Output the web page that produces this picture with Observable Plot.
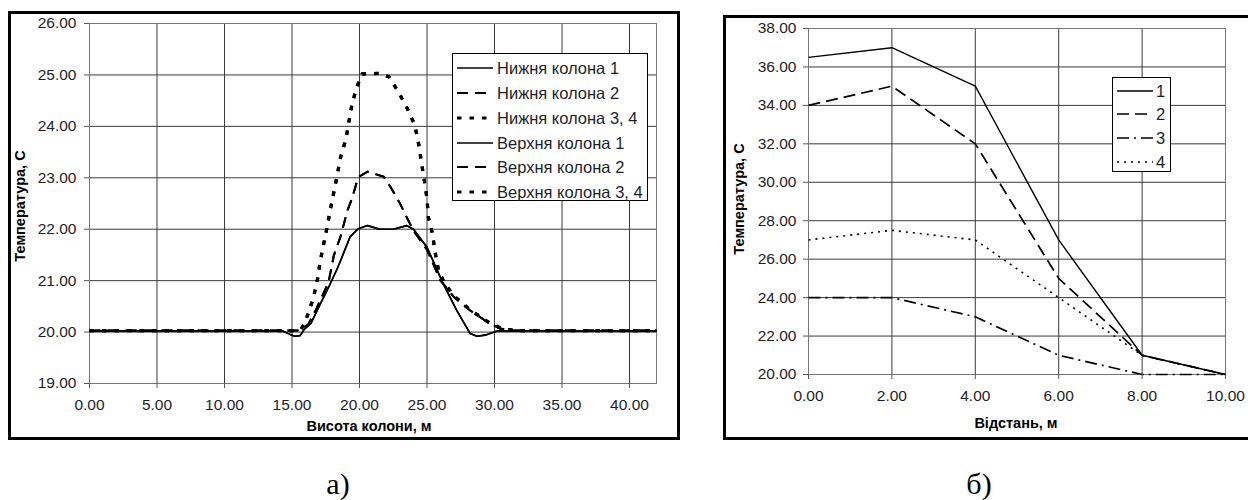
<!DOCTYPE html>
<html>
<head>
<meta charset="utf-8">
<script src="https://cdn.jsdelivr.net/npm/d3@7"></script>
<script src="https://cdn.jsdelivr.net/npm/@observablehq/plot@0.6"></script>
<style>
  html, body { margin: 0; padding: 0; background: #fff; }
  body { width: 1248px; height: 500px; position: relative; overflow: hidden; font-family: Arial, "Liberation Sans", sans-serif; color: #1e1e28; }
  .frame { position: absolute; box-sizing: border-box; border: 3px solid #000; }
  .axlabel { position: absolute; font-weight: bold; font-size: 14.5px; white-space: nowrap; color: #000; transform: translate(-50%, -50%); }
  .ylab { transform: translate(-50%, -50%) rotate(-90deg); }
  .legend { position: absolute; box-sizing: border-box; border: 1px solid #000; background: #fff; }
  .legrow { position: absolute; left: 0; display: flex; align-items: center; font-size: 16.5px; white-space: nowrap; }
  .caption { position: absolute; font-family: "Liberation Serif", "Times New Roman", serif; font-size: 30px; transform: translate(-50%, -50%); color: #000; }
</style>
</head>
<body>
<script>
// ---------- Chart а): temperature along column height ----------
const heightTicks = [0, 5, 10, 15, 20, 25, 30, 35, 40];
const tempTicksA = [19, 20, 21, 22, 23, 24, 25, 26];

const lower1X = [0, 14.3, 14.9, 15.2, 15.6, 15.9, 16.4, 17.1, 17.8, 18.4, 19.3, 19.9, 20.6, 21.5, 22.5, 23.5, 24.0, 25.0, 26.2, 27.2, 28.2, 28.7, 29.3, 30.2, 42];
const lower1T = [20.02, 20.02, 19.95, 19.92, 19.93, 20.05, 20.17, 20.55, 20.92, 21.26, 21.85, 22.01, 22.07, 22.0, 22.0, 22.07, 22.0, 21.65, 20.94, 20.42, 19.97, 19.92, 19.94, 20.02, 20.02];

const lower2X = [0, 15.6, 16.2, 16.8, 17.7, 18.1, 18.6, 19.1, 19.45, 19.9, 20.6, 21.8, 22.3, 23.0, 23.5, 24.0, 25.0, 26.0, 27.0, 28.2, 29.5, 30.4, 31.2, 42];
const lower2T = [20.03, 20.03, 20.15, 20.45, 20.96, 21.49, 21.86, 22.36, 22.6, 23.01, 23.12, 23.02, 22.82, 22.5, 22.23, 21.97, 21.6, 21.0, 20.68, 20.42, 20.19, 20.07, 20.03, 20.03];

const lower3X = [0, 15.6, 15.9, 16.2, 16.6, 16.9, 17.1, 17.35, 17.6, 17.85, 18.2, 18.6, 19.0, 19.45, 19.8, 20.2, 21.55, 22.2, 22.9, 23.5, 24.1, 24.4, 24.6, 24.8, 25.0, 25.1, 25.4, 25.6, 25.85, 26.3, 27.0, 28.2, 29.5, 30.5, 31.5, 42];
const lower3T = [20.03, 20.03, 20.15, 20.36, 20.68, 21.04, 21.39, 21.72, 22.04, 22.4, 22.85, 23.4, 23.76, 24.44, 24.76, 25.02, 25.03, 24.96, 24.66, 24.37, 24.02, 23.63, 23.28, 22.95, 22.6, 22.23, 21.92, 21.55, 21.2, 20.95, 20.7, 20.43, 20.2, 20.07, 20.03, 20.03];

const upper1X = [0, 14.3, 14.9, 15.2, 15.6, 15.9, 16.4, 17.1, 17.8, 18.4, 19.3, 19.9, 20.6, 21.5, 22.5, 23.5, 24.0, 25.0, 26.2, 27.2, 28.2, 28.7, 29.3, 30.2, 42];
const upper1T = [20.02, 20.02, 19.95, 19.92, 19.93, 20.05, 20.17, 20.55, 20.92, 21.26, 21.85, 22.01, 22.07, 22.0, 22.0, 22.07, 22.0, 21.65, 20.94, 20.42, 19.97, 19.92, 19.94, 20.02, 20.02];
const upper2X = lower2X.slice();
const upper2T = [20.03, 20.03, 20.15, 20.45, 20.96, 21.49, 21.86, 22.36, 22.6, 23.01, 23.12, 23.02, 22.82, 22.5, 22.23, 21.97, 21.6, 21.0, 20.68, 20.42, 20.19, 20.07, 20.03, 20.03];
const upper3X = lower3X.slice();
const upper3T = lower3T.slice();

const seriesA = [
  {name: "Нижня колона 1", x: lower1X, t: lower1T, style: "solid"},
  {name: "Нижня колона 2", x: lower2X, t: lower2T, style: "dash"},
  {name: "Нижня колона 3, 4", x: lower3X, t: lower3T, style: "dot"},
  {name: "Верхня колона 1", x: upper1X, t: upper1T, style: "solid"},
  {name: "Верхня колона 2", x: upper2X, t: upper2T, style: "dash"},
  {name: "Верхня колона 3, 4", x: upper3X, t: upper3T, style: "dot"}
];
const stylesA = {
  solid: {strokeWidth: 1.6, dash: null},
  dash: {strokeWidth: 2, dash: "11,7"},
  dot: {strokeWidth: 3.2, dash: "4.5,8"}
};

// ---------- Chart б): temperature along distance ----------
const distance = [0, 2, 4, 6, 8, 10];
const tempTicksB = [20, 22, 24, 26, 28, 30, 32, 34, 36, 38];
const curve1 = [36.5, 37, 35, 27, 21, 20];
const curve2 = [34, 35, 32, 25, 21, 20];
const curve3 = [24, 24, 23, 21, 20, 20];
const curve4 = [27, 27.5, 27, 24, 21, 20];
const seriesB = [
  {name: "1", t: curve1, strokeWidth: 1.4, dash: null},
  {name: "2", t: curve2, strokeWidth: 1.7, dash: "12,6"},
  {name: "3", t: curve3, strokeWidth: 1.7, dash: "12,5,2,5"},
  {name: "4", t: curve4, strokeWidth: 1.6, dash: "2,5"}
];

const fmt = d3.format(".2f");
const svgStyle = {fontFamily: "Arial, 'Liberation Sans', sans-serif", fontSize: "15.5px", color: "#1e1e28", background: "none", overflow: "visible"};

function lineMarks(series, getX) {
  return series.map(s => {
    const data = s.t.map((t, i) => ({x: getX(s, i), t}));
    return Plot.line(data, {x: "x", y: "t", stroke: "#000", strokeWidth: s.strokeWidth, strokeDasharray: s.dash, strokeLinejoin: "round", strokeLinecap: "butt"});
  });
}

// ---- build chart а)
const chartA = Plot.plot({
  width: 671, height: 427,
  marginLeft: 81, marginRight: 23, marginTop: 11, marginBottom: 56,
  style: svgStyle,
  x: {domain: [0, 42]},
  y: {domain: [19, 26]},
  marks: [
    Plot.gridX(heightTicks, {stroke: "#3a3a3a", strokeOpacity: 1, strokeWidth: 1}),
    Plot.gridY(tempTicksA, {stroke: "#3a3a3a", strokeOpacity: 1, strokeWidth: 1}),
    Plot.frame({stroke: "#777", strokeWidth: 1}),
    ...lineMarks(seriesA.map(s => ({...s, strokeWidth: stylesA[s.style].strokeWidth, dash: stylesA[s.style].dash})), (s, i) => s.x[i]),
    Plot.axisX(heightTicks, {tickFormat: fmt, tickSize: 5, tickPadding: 10, label: null, stroke: "#555"}),
    Plot.axisY(tempTicksA, {tickFormat: fmt, tickSize: 5, tickPadding: 8, label: null, stroke: "#555"})
  ]
});

// ---- build chart б)
const chartB = Plot.plot({
  width: 524, height: 423,
  marginLeft: 84, marginRight: 23, marginTop: 12, marginBottom: 65,
  style: svgStyle,
  x: {domain: [0, 10]},
  y: {domain: [20, 38]},
  marks: [
    Plot.gridX(distance, {stroke: "#3a3a3a", strokeOpacity: 1, strokeWidth: 1}),
    Plot.gridY(tempTicksB, {stroke: "#3a3a3a", strokeOpacity: 1, strokeWidth: 1}),
    Plot.frame({stroke: "#777", strokeWidth: 1}),
    ...lineMarks(seriesB, (s, i) => distance[i]),
    Plot.axisX(distance, {tickFormat: fmt, tickSize: 5, tickPadding: 10, label: null, stroke: "#555"}),
    Plot.axisY(tempTicksB, {tickFormat: fmt, tickSize: 5, tickPadding: 7, label: null, stroke: "#555"})
  ]
});

function place(el, left, top) {
  el.style.position = "absolute";
  el.style.left = left + "px";
  el.style.top = top + "px";
  document.body.appendChild(el);
}

function addDiv(cls, text, css) {
  const d = document.createElement("div");
  d.className = cls;
  if (text != null) d.textContent = text;
  Object.assign(d.style, css);
  document.body.appendChild(d);
  return d;
}

// frames
addDiv("frame", null, {left: "8px", top: "11px", width: "672px", height: "429px"});
addDiv("frame", null, {left: "723px", top: "15px", width: "540px", height: "425px"});

place(chartA, 8, 12);
place(chartB, 724, 16);

// axis titles
addDiv("axlabel", "Висота колони, м", {left: "369px", top: "426px"});
addDiv("axlabel ylab", "Температура, С", {left: "20px", top: "206px"});
addDiv("axlabel", "Відстань, м", {left: "1016px", top: "423px"});
addDiv("axlabel ylab", "Температура, С", {left: "739px", top: "199px"});

// legends
function legend(left, top, width, height, items, rowTops, sampleLeft, sampleW, textGap) {
  const box = addDiv("legend", null, {left: left + "px", top: top + "px", width: width + "px", height: height + "px"});
  items.forEach((it, i) => {
    const row = document.createElement("div");
    row.className = "legrow";
    row.style.top = (rowTops[i] - top - 10) + "px";
    row.style.height = "20px";
    row.style.left = (sampleLeft - left - 1) + "px";
    const ns = "http://www.w3.org/2000/svg";
    const svg = document.createElementNS(ns, "svg");
    svg.setAttribute("width", sampleW);
    svg.setAttribute("height", 20);
    const ln = document.createElementNS(ns, "line");
    ln.setAttribute("x1", 0); ln.setAttribute("x2", sampleW);
    ln.setAttribute("y1", 10); ln.setAttribute("y2", 10);
    ln.setAttribute("stroke", "#000");
    ln.setAttribute("stroke-width", it.strokeWidth);
    if (it.dash) ln.setAttribute("stroke-dasharray", it.dash);
    svg.appendChild(ln);
    row.appendChild(svg);
    const sp = document.createElement("span");
    sp.textContent = it.name;
    sp.style.marginLeft = textGap + "px";
    row.appendChild(sp);
    box.appendChild(row);
  });
}

legend(452, 53, 196, 148,
  seriesA.map(s => ({name: s.name, strokeWidth: stylesA[s.style].strokeWidth, dash: stylesA[s.style].dash})),
  [67, 92, 117, 142, 166, 191], 457, 36, 4);

legend(1112, 77, 59, 95,
  seriesB.map(s => ({name: s.name, strokeWidth: s.strokeWidth, dash: s.dash})),
  [90, 113, 137, 161], 1117, 36, 3);

// captions
addDiv("caption", "а)", {left: "338px", top: "484px"});
addDiv("caption", "б)", {left: "979px", top: "484px"});
</script>
</body>
</html>
